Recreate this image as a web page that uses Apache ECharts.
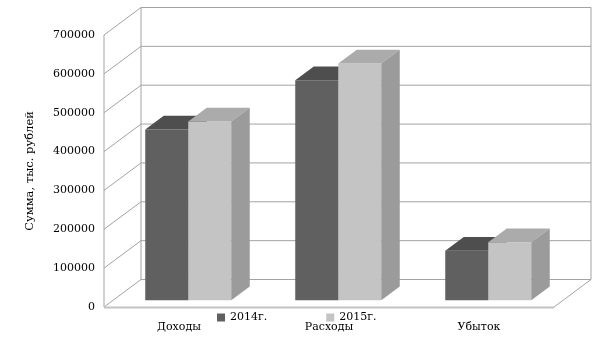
<!DOCTYPE html>
<html>
<head>
<meta charset="utf-8">
<script src="https://cdn.jsdelivr.net/npm/echarts@6/dist/echarts.min.js"></script>
<style>html,body{margin:0;padding:0;background:#fff}#c{width:605px;height:340px}</style>
</head>
<body>
<div id="c"></div>
<script>
const categories = ['Доходы', 'Расходы', 'Убыток'];
const seriesNames = ['2014г.', '2015г.'];
const values2014 = [439000, 566000, 127000];
const values2015 = [460000, 609000, 149000];
const yTicks = [0, 100000, 200000, 300000, 400000, 500000, 600000, 700000];
const yTitle = 'Сумма, тыс. рублей';

// 3D projection style constants
const DX = 37, DY = -27.5;
const FRONT = 0.25, BACK = 0.75;
const BAR_FRAC = 0.2867;
const FONT = 'DejaVu Serif';
const GRID_COLOR = '#a3a3a3';

function barRenderer(slot, colors) {
  return function (params, api) {
    const ci = api.value(0), v = api.value(1);
    const base = api.coord([ci, 0]);
    const top = api.coord([ci, v]);
    const band = api.size([1, 0])[0];
    const bw = band * BAR_FRAC;
    const x0 = base[0] + (slot === 0 ? -bw : 0);
    const fx = DX * FRONT, fy = DY * FRONT, bx = DX * BACK, by = DY * BACK;
    return {
      type: 'group',
      children: [
        { type: 'rect', shape: { x: x0 + fx, y: top[1] + fy, width: bw, height: base[1] - top[1] },
          style: { fill: colors.front } },
        { type: 'polygon', shape: { points: [[x0 + fx, top[1] + fy], [x0 + fx + bw, top[1] + fy], [x0 + bx + bw, top[1] + by], [x0 + bx, top[1] + by]] },
          style: { fill: colors.top } },
        { type: 'polygon', shape: { points: [[x0 + fx + bw, top[1] + fy], [x0 + bx + bw, top[1] + by], [x0 + bx + bw, base[1] + by], [x0 + fx + bw, base[1] + fy]] },
          style: { fill: colors.side } }
      ]
    };
  };
}

function gridRenderer(params, api) {
  const cs = params.coordSys;
  const v = api.value(1);
  const y = api.coord([0, v])[1];
  const ls = { stroke: GRID_COLOR, lineWidth: 1 };
  return {
    type: 'group',
    children: [
      { type: 'line', shape: { x1: cs.x + DX, y1: y + DY, x2: cs.x + cs.width + DX, y2: y + DY }, style: ls },
      { type: 'line', shape: { x1: cs.x, y1: y, x2: cs.x + DX, y2: y + DY }, style: ls }
    ]
  };
}

function frameRenderer(params, api) {
  const cs = params.coordSys;
  const y0 = api.coord([0, yTicks[0]])[1];
  const y1 = api.coord([0, yTicks[yTicks.length - 1]])[1];
  const ls = { stroke: GRID_COLOR, lineWidth: 1 };
  const right = cs.x + cs.width;
  return {
    type: 'group',
    children: [
      { type: 'line', shape: { x1: cs.x, y1: y0, x2: cs.x, y2: y1 }, style: ls },
      { type: 'line', shape: { x1: cs.x + DX, y1: y0 + DY, x2: cs.x + DX, y2: y1 + DY }, style: ls },
      { type: 'line', shape: { x1: right + DX, y1: y0 + DY, x2: right + DX, y2: y1 + DY }, style: ls },
      { type: 'line', shape: { x1: cs.x, y1: y0 + 0.5, x2: right, y2: y0 + 0.5 }, style: { stroke: '#c2c2c2', lineWidth: 2 } },
      { type: 'line', shape: { x1: right, y1: y0, x2: right + DX, y2: y0 + DY }, style: ls }
    ]
  };
}

const chart = echarts.init(document.getElementById('c'), null, { renderer: 'canvas' });
chart.setOption({
  animation: false,
  backgroundColor: '#ffffff',
  grid: { left: 104, right: 51, top: 35, bottom: 33, containLabel: false },
  legend: {
    data: seriesNames,
    left: 212, top: 307,
    itemWidth: 8, itemHeight: 8, itemGap: 59,
    icon: 'rect',
    textStyle: { fontFamily: FONT, fontSize: 11, color: '#000' }
  },
  xAxis: {
    type: 'category', data: categories,
    axisLine: { show: false }, axisTick: { show: false }, splitLine: { show: false },
    axisLabel: { margin: 15, fontFamily: FONT, fontSize: 11, color: '#000' }
  },
  yAxis: {
    type: 'value', min: 0, max: yTicks[yTicks.length - 1], interval: yTicks[1] - yTicks[0],
    name: yTitle, nameLocation: 'middle', nameRotate: 90, nameGap: 68,
    nameTextStyle: { fontFamily: FONT, fontSize: 11.5, color: '#000' },
    axisLine: { show: false }, axisTick: { show: false }, splitLine: { show: false },
    axisLabel: { margin: 9, fontFamily: FONT, fontSize: 11, color: '#000', formatter: v => String(v) }
  },
  series: [
    { type: 'custom', name: 'grid', silent: true, renderItem: gridRenderer, data: yTicks.map(v => [0, v]), z: 1 },
    { type: 'custom', name: 'frame', silent: true, renderItem: frameRenderer, data: [[0, 0]], z: 1 },
    { type: 'custom', name: seriesNames[0], itemStyle: { color: '#606060' }, z: 2,
      renderItem: barRenderer(0, { front: '#606060', top: '#4e4e4e', side: '#4a4a4a' }),
      data: values2014.map((v, i) => [i, v]) },
    { type: 'custom', name: seriesNames[1], itemStyle: { color: '#c4c4c4' }, z: 3,
      renderItem: barRenderer(1, { front: '#c4c4c4', top: '#ababab', side: '#9b9b9b' }),
      data: values2015.map((v, i) => [i, v]) }
  ]
});
</script>
</body>
</html>
